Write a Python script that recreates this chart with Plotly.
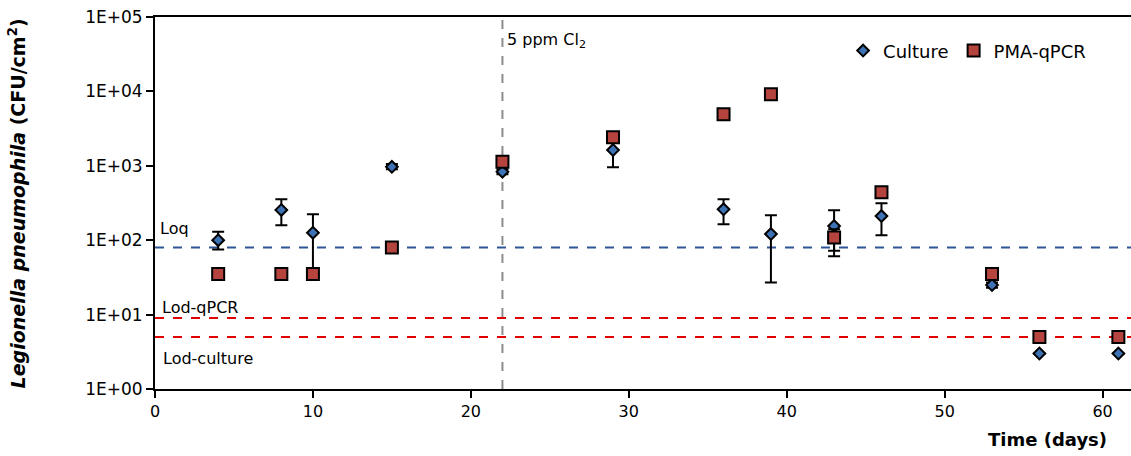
import math
import plotly.graph_objects as go

# Sampling days
days = [4, 8, 10, 15, 22, 29, 36, 39, 43, 46, 53, 56, 61]

# Culture counts (CFU/cm2) with upper / lower bounds of the error bars
culture = [100, 255, 126, 970, 830, 1630, 260, 121, 155, 211, 25, 3.0, 3.0]
culture_hi = [130, 355, 223, 1060, 900, 2200, 355, 216, 252, 313, 27, 3.0, 3.0]
culture_lo = [75, 159, 35, 900, 770, 955, 164, 27, 61, 117, 23, 3.0, 3.0]

# PMA-qPCR counts (CFU/cm2)
pma = [35, 35, 35, 80, 1135, 2415, 4920, 9140, 109, 441, 35, 5.0, 5.0]
pma_hi = [35, 35, 35, 80, 1135, 2415, 4920, 9140, 140, 441, 35, 5.0, 5.0]
pma_lo = [35, 35, 35, 80, 1135, 2415, 4920, 9140, 72, 441, 35, 5.0, 5.0]

# Reference levels
loq = 80
lod_qpcr = 9
lod_culture = 5
chlorination_day = 22

x_tickvals = [0, 10, 20, 30, 40, 50, 60]
y_tickvals = [1, 10, 100, 1000, 10000, 100000]
y_ticktext = ["1E+00", "1E+01", "1E+02", "1E+03", "1E+04", "1E+05"]

FONT = "DejaVu Sans"
BLUE = "#3D72B4"
RED = "#B5443E"

fig = go.Figure()

x_span = [0, 62]
# Horizontal reference lines
fig.add_trace(go.Scatter(x=x_span, y=[loq, loq], mode="lines", showlegend=False,
                         line=dict(color="#2F5597", width=2, dash="dash"), hoverinfo="skip"))
fig.add_trace(go.Scatter(x=x_span, y=[lod_qpcr, lod_qpcr], mode="lines", showlegend=False,
                         line=dict(color="#E00000", width=2, dash="dash"), hoverinfo="skip"))
fig.add_trace(go.Scatter(x=x_span, y=[lod_culture, lod_culture], mode="lines", showlegend=False,
                         line=dict(color="#E00000", width=2, dash="dash"), hoverinfo="skip"))
# Start of chlorination
fig.add_trace(go.Scatter(x=[chlorination_day, chlorination_day], y=[1, 100000], mode="lines",
                         showlegend=False, line=dict(color="#8C8C8C", width=2, dash="dash"),
                         hoverinfo="skip"))

fig.add_trace(go.Scatter(
    x=days, y=culture, mode="markers", name="Culture",
    marker=dict(symbol="diamond", size=9, color=BLUE, line=dict(color="black", width=2)),
    error_y=dict(type="data", symmetric=False,
                 array=[h - v for h, v in zip(culture_hi, culture)],
                 arrayminus=[v - l for v, l in zip(culture, culture_lo)],
                 color="black", thickness=2, width=6),
))
fig.add_trace(go.Scatter(
    x=days, y=pma, mode="markers", name="PMA-qPCR",
    marker=dict(symbol="square", size=12, color=RED, line=dict(color="black", width=2)),
    error_y=dict(type="data", symmetric=False,
                 array=[h - v for h, v in zip(pma_hi, pma)],
                 arrayminus=[v - l for v, l in zip(pma, pma_lo)],
                 color="black", thickness=2, width=6),
))

label_font = dict(family=FONT, size=16, color="black")
annotations = [
    dict(x=chlorination_day, y=1, xref="x", yref="paper", text="5 ppm Cl<sub>2</sub>",
         showarrow=False, xanchor="left", yanchor="top", xshift=3, yshift=-11,
         font=label_font),
    dict(x=0, y=math.log10(loq), xref="x", yref="y", text="Loq", showarrow=False,
         xanchor="left", yanchor="bottom", xshift=3, yshift=7, font=label_font),
    dict(x=0, y=math.log10(lod_qpcr), xref="x", yref="y", text="Lod-qPCR", showarrow=False,
         xanchor="left", yanchor="bottom", xshift=5, yshift=-1, font=label_font),
    dict(x=0, y=math.log10(lod_culture), xref="x", yref="y", text="Lod-culture", showarrow=False,
         xanchor="left", yanchor="top", xshift=6, yshift=-10, font=label_font),
    dict(x=-0.141, y=0.5, xref="paper", yref="paper", textangle=-90, showarrow=False,
         xanchor="center", yanchor="middle",
         text="<b><i>Legionella pneumophila</i> (CFU/cm<sup>2</sup>)</b>",
         font=dict(family=FONT, size=19, color="black")),
    dict(x=60.4, y=0, xref="x", yref="paper", text="<b>Time (days)</b>",
         showarrow=False, xanchor="right", yanchor="top", yshift=-38,
         font=dict(family=FONT, size=18, color="black")),
]

fig.update_layout(
    width=1131, height=456,
    margin=dict(l=155, r=0, t=17, b=67),
    paper_bgcolor="white", plot_bgcolor="white",
    font=dict(family=FONT, size=16, color="black"),
    annotations=annotations,
    legend=dict(orientation="h", x=0.705, y=0.909, xanchor="left", yanchor="middle",
                bgcolor="rgba(0,0,0,0)", font=dict(family=FONT, size=18, color="black"),
                itemwidth=30, tracegroupgap=0),
    showlegend=True,
)
fig.update_xaxes(range=[0, 61.8], tickvals=x_tickvals,
                 showgrid=False, zeroline=False, showline=True, linecolor="black", linewidth=2,
                 mirror=True, ticks="outside", ticklen=7, tickwidth=2, tickcolor="black",
                 tickfont=dict(family=FONT, size=16, color="black"))
fig.update_yaxes(type="log", range=[0, 5], tickvals=y_tickvals, ticktext=y_ticktext,
                 showgrid=False, zeroline=False, showline=True, linecolor="black", linewidth=2,
                 ticks="outside", ticklen=7, tickwidth=2, tickcolor="black",
                 tickfont=dict(family=FONT, size=17, color="black"))

fig.write_html("out.html")
